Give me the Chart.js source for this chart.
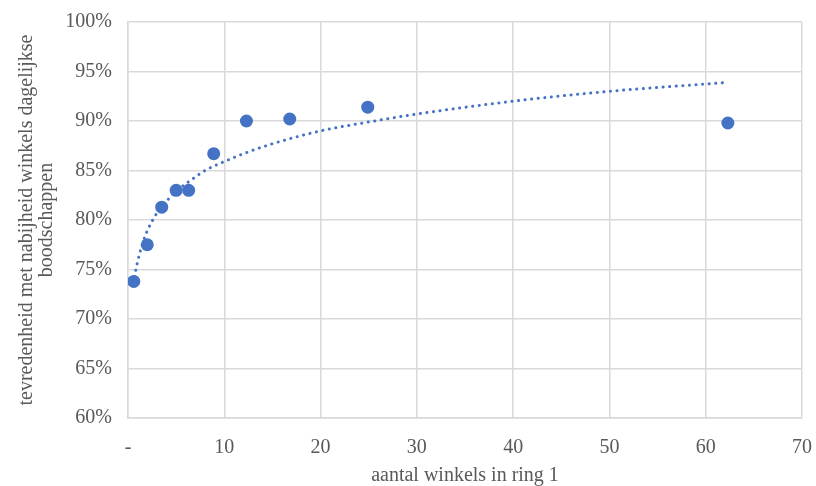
<!DOCTYPE html>
<html>
<head>
<meta charset="utf-8">
<script src="https://cdn.jsdelivr.net/npm/chart.js@4"></script>
<style>
  html, body { margin: 0; padding: 0; background: #fff; }
  #wrap { width: 816px; height: 486px; }
</style>
</head>
<body>
<div id="wrap"><canvas id="chart" width="816" height="486"></canvas></div>
<script>
// Winkels in ring 1 vs tevredenheid
const winkels = [0.6, 2.0, 3.5, 5.0, 6.3, 8.9, 12.3, 16.8, 24.9, 62.3];
const tevredenheid = [73.8, 77.5, 81.3, 83.0, 83.0, 86.7, 90.0, 90.2, 91.4, 89.8];

// Dotted trendline
const trendX = [0.6, 0.8, 1, 1.5, 2, 3, 4, 5, 6.5, 8, 10, 12, 15, 20, 25, 30, 40, 50, 62.3];
const trendY = [73.6, 74.9, 75.8, 77.6, 78.9, 80.7, 81.9, 82.9, 84.0, 85.0, 85.9, 86.7, 87.7, 89.0, 89.9, 90.7, 92.0, 93.0, 93.9];

const xTicks = [0, 10, 20, 30, 40, 50, 60, 70];
const yTicks = [60, 65, 70, 75, 80, 85, 90, 95, 100];

const blue = '#4472C4';
const gridColor = '#d9d9d9';
const textColor = '#595959';
const serif = "'Liberation Serif', 'DejaVu Serif', serif";

new Chart(document.getElementById('chart').getContext('2d'), {
    type: 'scatter',
    data: {
        datasets: [
            {
                label: 'tevredenheid',
                data: winkels.map((x, i) => ({ x: x, y: tevredenheid[i] })),
                backgroundColor: blue,
                borderColor: blue,
                pointRadius: 6.5,
                pointBorderWidth: 0,
                order: 1
            },
            {
                label: 'trend',
                type: 'line',
                data: trendX.map((x, i) => ({ x: x, y: trendY[i] })),
                borderColor: blue,
                borderWidth: 3,
                borderDash: [0.1, 6.5],
                borderCapStyle: 'round',
                pointRadius: 0,
                cubicInterpolationMode: 'monotone',
                fill: false,
                order: 2
            }
        ]
    },
    options: {
        responsive: false,
        animation: false,
        layout: { padding: { left: 17, right: 14, top: 22, bottom: 0 } },
        plugins: {
            legend: { display: false },
            tooltip: { enabled: false }
        },
        scales: {
            x: {
                type: 'linear',
                min: 0,
                max: 70,
                afterBuildTicks: s => { s.ticks = xTicks.map(v => ({ value: v })); },
                ticks: {
                    color: textColor,
                    font: { family: serif, size: 20 },
                    padding: 18,
                    maxRotation: 0,
                    callback: v => v === 0 ? '-' : v
                },
                grid: { color: gridColor, lineWidth: 1.5, tickLength: 0 },
                border: { color: gridColor, width: 1.5 },
                title: {
                    display: true,
                    text: 'aantal winkels in ring 1',
                    color: textColor,
                    font: { family: serif, size: 20, lineHeight: 1 },
                    padding: { top: 4, bottom: 0 }
                },
                afterFit: s => {
                    s.height = 68;
                    s.paddingLeft = 0;
                    s.paddingRight = 0;
                }
            },
            y: {
                min: 60,
                max: 100,
                afterBuildTicks: s => { s.ticks = yTicks.map(v => ({ value: v })); },
                ticks: {
                    color: textColor,
                    font: { family: serif, size: 20 },
                    padding: 16,
                    callback: v => v + '%'
                },
                grid: { color: gridColor, lineWidth: 1.5, tickLength: 0 },
                border: { color: gridColor, width: 1.5 },
                title: {
                    display: true,
                    text: ['tevredenheid met nabijheid winkels dagelijkse', 'boodschappen'],
                    color: textColor,
                    font: { family: serif, size: 20, lineHeight: 1.0 },
                    padding: { top: 0, bottom: 0 }
                },
                afterFit: s => {
                    s.width = 111;
                    s.paddingTop = 0;
                    s.paddingBottom = 0;
                }
            }
        }
    }
});
</script>
</body>
</html>
